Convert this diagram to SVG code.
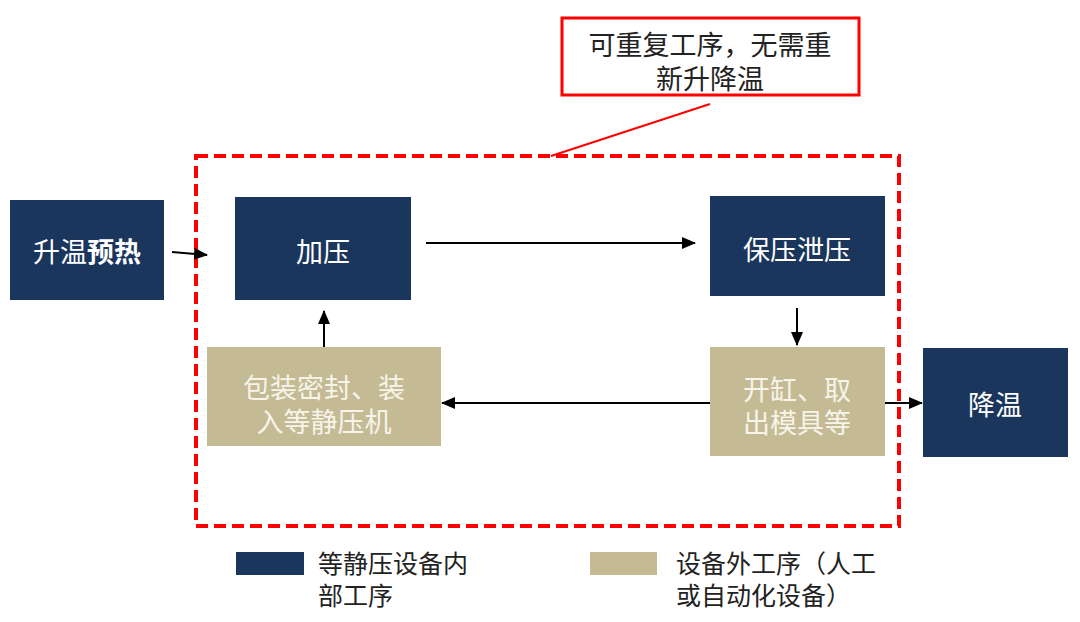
<svg xmlns="http://www.w3.org/2000/svg" width="1080" height="622" viewBox="0 0 1080 622">
<style>
.dark{fill:#1b365d;}
.tan{fill:#c4bb95;}
.t{font-family:"Liberation Serif","Noto Sans CJK SC",serif;font-size:27px;text-anchor:middle;}
.w{fill:#ffffff;}
.lw{fill:#f7f4ea;}
.lg{font-family:"Liberation Serif","Noto Sans CJK SC",serif;font-size:25px;fill:#222;}
.c{fill:none;stroke:#000;stroke-width:2;}
</style>
<defs>
<marker id="ah" markerWidth="14" markerHeight="12" refX="13" refY="6" orient="auto" markerUnits="userSpaceOnUse">
<path d="M0,0 L14,6 L0,12 Z" fill="#000"/>
</marker>
</defs>
<rect width="1080" height="622" fill="#ffffff"/>
<g id="region">
<rect x="196" y="156" width="703" height="370" fill="none" stroke="#ff0000" stroke-width="4" stroke-dasharray="12,6"/>
</g>
<g id="callout">
<rect x="562" y="18" width="297" height="77" fill="#fff" stroke="#ff0000" stroke-width="3"/>
<text class="t" x="710" y="55" fill="#222">可重复工序，无需重</text>
<text class="t" x="710" y="89" fill="#222">新升降温</text>
<line x1="710" y1="104" x2="551" y2="156" stroke="#ff0000" stroke-width="2"/>
</g>
<g id="n-preheat">
<rect class="dark" x="10" y="200" width="154" height="100"/>
<text class="t w" x="87" y="262">升温<tspan font-weight="bold">预热</tspan></text>
</g>
<g id="n-press">
<rect class="dark" x="235" y="197" width="176" height="103"/>
<text class="t w" x="323" y="262">加压</text>
</g>
<g id="n-hold">
<rect class="dark" x="710" y="196" width="175" height="100"/>
<text class="t w" x="797" y="260">保压泄压</text>
</g>
<g id="n-pack">
<rect class="tan" x="207" y="347" width="234" height="99"/>
<text class="t lw" x="324" y="398">包装密封、装</text>
<text class="t lw" x="324" y="432">入等静压机</text>
</g>
<g id="n-open">
<rect class="tan" x="710" y="347" width="175" height="109"/>
<text class="t lw" x="797" y="400">开缸、取</text>
<text class="t lw" x="797" y="433">出模具等</text>
</g>
<g id="n-cool">
<rect class="dark" x="923" y="348" width="145" height="109"/>
<text class="t w" x="995" y="415">降温</text>
</g>
<g id="connectors">
<line class="c" x1="172" y1="252" x2="207" y2="255" marker-end="url(#ah)"/>
<line class="c" x1="426" y1="243" x2="695" y2="243" marker-end="url(#ah)"/>
<line class="c" x1="797" y1="308" x2="797" y2="345" marker-end="url(#ah)"/>
<line class="c" x1="710" y1="403" x2="442" y2="403" marker-end="url(#ah)"/>
<line class="c" x1="324" y1="347" x2="324" y2="311" marker-end="url(#ah)"/>
<line class="c" x1="885" y1="403" x2="922" y2="403" marker-end="url(#ah)"/>
</g>
<g id="legend">
<rect class="dark" x="236" y="552" width="68" height="23"/>
<text class="lg" x="318" y="573">等静压设备内</text>
<text class="lg" x="318" y="605">部工序</text>
<rect class="tan" x="590" y="552" width="67" height="23"/>
<text class="lg" x="676" y="573">设备外工序（人工</text>
<text class="lg" x="676" y="605">或自动化设备）</text>
</g>
</svg>
